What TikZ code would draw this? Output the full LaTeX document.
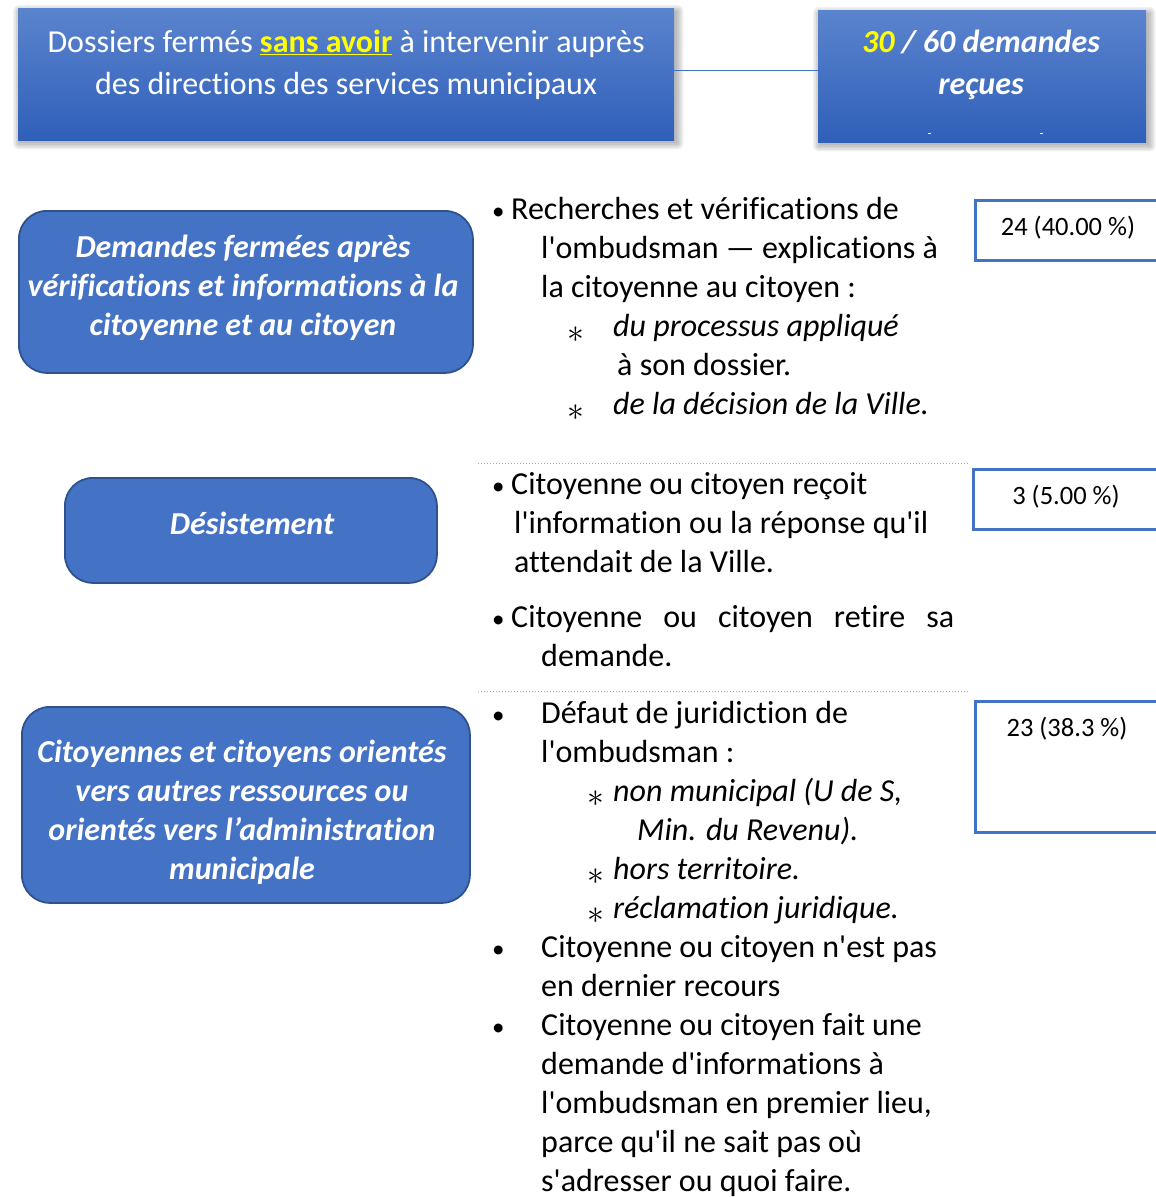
\documentclass[tikz,border=0pt]{standalone}
\usepackage{fontspec}
\setmainfont{Carlito}[Ligatures={TeXOff,CommonOff}]
\usetikzlibrary{backgrounds}
\definecolor{boxblue}{HTML}{4472C4}
\definecolor{boxedge}{HTML}{2F528F}
\definecolor{gradtop}{HTML}{5B84CE}
\definecolor{gradbot}{HTML}{2F5FB9}
\definecolor{linkblue}{HTML}{4472C4}
\definecolor{dotblue}{HTML}{8FAADC}
\definecolor{hiyellow}{HTML}{FFFF00}
\tikzset{
  topbox/.style={rectangle, draw=none, top color=gradtop, bottom color=gradbot, inner sep=0pt},
  catbox/.style={rectangle, rounded corners=28pt, fill=boxblue, draw=boxedge, line width=1.8pt, inner sep=0pt},
  cattxt/.style={text=white, align=center, inner sep=0pt,
    font=\fontsize{32}{39}\selectfont\bfseries\itshape},
  numbox/.style={rectangle, draw=linkblue, line width=2.8pt, fill=white, inner sep=0pt},
  numtxt/.style={font=\fontsize{26.5}{30}\selectfont, text=black, inner sep=0pt},
  toptxt/.style={text=white, align=center, inner sep=0pt},
  body/.style={anchor=base west, inner sep=0pt, text=black, font=\fontsize{32}{39}\selectfont},
  bodyit/.style={body, font=\fontsize{32}{39}\selectfont\itshape},
  bul/.style={anchor=base west, inner sep=0pt, text=black, font=\fontsize{25}{39}\selectfont},
  star/.style={anchor=base, inner sep=0pt, text=black, font=\fontsize{32}{39}\selectfont},
  sepline/.style={dotblue, dotted, line width=1pt},
  shadowlayer/.style={black, opacity=0.06},
}
\newcommand{\softshadow}[1]{%
  \foreach \r in {0,1.5,3,4.5,6}{%
    \fill[shadowlayer, rounded corners=\r pt]
      ([xshift=1pt-\r pt, yshift=-3pt-\r pt]#1.south west) rectangle
      ([xshift=3pt+\r pt, yshift=-3pt+\r pt]#1.north east);
  }}
\newcommand{\bigast}{\scalebox{1.35}{$\ast$}}
\begin{document}
\begin{tikzpicture}[x=1pt, y=-1pt]
\useasboundingbox (0,0) rectangle (1156,1197);
\clip (0,0) rectangle (1156,1197);

% top boxes
\node[topbox, minimum width=656pt, minimum height=132pt, anchor=north west] (top1) at (18,8) {};
\node[toptxt, font=\fontsize{32}{42}\selectfont] (top1txt) at (346,65)
  {Dossiers fermés \textcolor{hiyellow}{\underline{\textbf{sans avoir}}} à intervenir auprès\\des directions des services municipaux};
\node[topbox, minimum width=328pt, minimum height=132pt, anchor=north west] (top2) at (818,10) {};
\node[toptxt, font=\fontsize{32}{42}\selectfont\bfseries\itshape] (top2txt) at (981,65)
  {\textcolor{hiyellow}{30} / 60 demandes\\reçues};
\begin{scope}[on background layer]
  \softshadow{top1}
  \softshadow{top2}
\end{scope}
\coordinate (dashA) at (928,133);
\coordinate (dashB) at (1040,133);
\draw[white, line width=0.8pt] (dashA) -- ++(3,0);
\draw[white, line width=0.8pt] (dashB) -- ++(3,0);
\draw[linkblue, line width=1pt] ([yshift=4pt]top1.east) -- ([yshift=4pt]top1.east -| top2.west);

% category boxes
\node[catbox, minimum width=454pt, minimum height=162pt, anchor=north west] (cat1) at (18,210) {};
\node[cattxt] (cat1txt) at (243,288)
  {Demandes fermées après\\vérifications et informations à la\\citoyenne et au citoyen};
\node[catbox, minimum width=372pt, minimum height=105pt, anchor=north west] (cat2) at (64,477) {};
\node[cattxt] (cat2txt) at (252,523) {Désistement};
\node[catbox, minimum width=448pt, minimum height=196pt, anchor=north west] (cat3) at (21,706) {};
\node[cattxt] (cat3txt) at (242,812)
  {Citoyennes et citoyens orientés\\vers autres ressources ou\\orientés vers l’administration\\municipale};

% number boxes
\node[numbox, minimum width=200pt, minimum height=60pt, anchor=north west] (num1) at (974,199) {};
\node[numtxt] (num1txt) at (1068,228) {24 (40.00 \%)};
\node[numbox, minimum width=200pt, minimum height=60pt, anchor=north west] (num2) at (972,468) {};
\node[numtxt] (num2txt) at (1066,497) {3 (5.00 \%)};
\node[numbox, minimum width=200pt, minimum height=131pt, anchor=north west] (num3) at (974,700) {};
\node[numtxt] (num3txt) at (1067,729) {23 (38.3 \%)};

% dotted separators
\coordinate (sepAl) at (478,463);
\coordinate (sepAr) at (969,463);
\coordinate (sepBl) at (478,691);
\coordinate (sepBr) at (969,691);
\draw[sepline] (sepAl) -- (sepAr);
\draw[sepline] (sepBl) -- (sepBr);

% block 1
\node[bul] (b1a) at (492,219) {•};
\node[body] (b1b) at (511,219) {Recherches et vérifications de};
\node[body] (b1c) at (541,258) {l'ombudsman — explications à};
\node[body] (b1d) at (541,297) {la citoyenne au citoyen :};
\node[star] (b1e) at (576,342) {\bigast};
\node[bodyit] (b1f) at (613,336) {du processus appliqué};
\node[body] (b1g) at (617,375) {à son dossier.};
\node[star] (b1h) at (576,420) {\bigast};
\node[bodyit] (b1i) at (613,414) {de la décision de la Ville.};

% block 2
\node[bul] (b2a) at (492,494) {•};
\node[body] (b2b) at (511,494) {Citoyenne ou citoyen reçoit};
\node[body] (b2c) at (514,533) {l'information ou la réponse qu'il};
\node[body] (b2d) at (514,572) {attendait de la Ville.};
\node[bul] (b2e) at (492,627) {•};
\node[body] (b2f) at (511,627) {\makebox[443pt][s]{Citoyenne ou citoyen retire sa}};
\node[body] (b2g) at (541,666) {demande.};

% block 3
\node[bul] (b3a) at (492,723) {•};
\node[body] (b3b) at (541,723) {Défaut de juridiction de};
\node[body] (b3c) at (541,762) {l'ombudsman :};
\node[star] (b3d) at (596,806) {\bigast};
\node[bodyit] (b3e) at (613,801) {non municipal (U de S,};
\node[bodyit] (b3f) at (637,840) {Min. du Revenu).};
\node[star] (b3g) at (596,884) {\bigast};
\node[bodyit] (b3h) at (613,879) {hors territoire.};
\node[star] (b3i) at (596,923) {\bigast};
\node[bodyit] (b3j) at (613,918) {réclamation juridique.};
\node[bul] (b3k) at (492,957) {•};
\node[body] (b3l) at (541,957) {Citoyenne ou citoyen n'est pas};
\node[body] (b3m) at (541,996) {en dernier recours};
\node[bul] (b3n) at (492,1035) {•};
\node[body] (b3o) at (541,1035) {Citoyenne ou citoyen fait une};
\node[body] (b3p) at (541,1074) {demande d'informations à};
\node[body] (b3q) at (541,1113) {l'ombudsman en premier lieu,};
\node[body] (b3r) at (541,1152) {parce qu'il ne sait pas où};
\node[body] (b3s) at (541,1191) {s'adresser ou quoi faire.};
\end{tikzpicture}
\end{document}
